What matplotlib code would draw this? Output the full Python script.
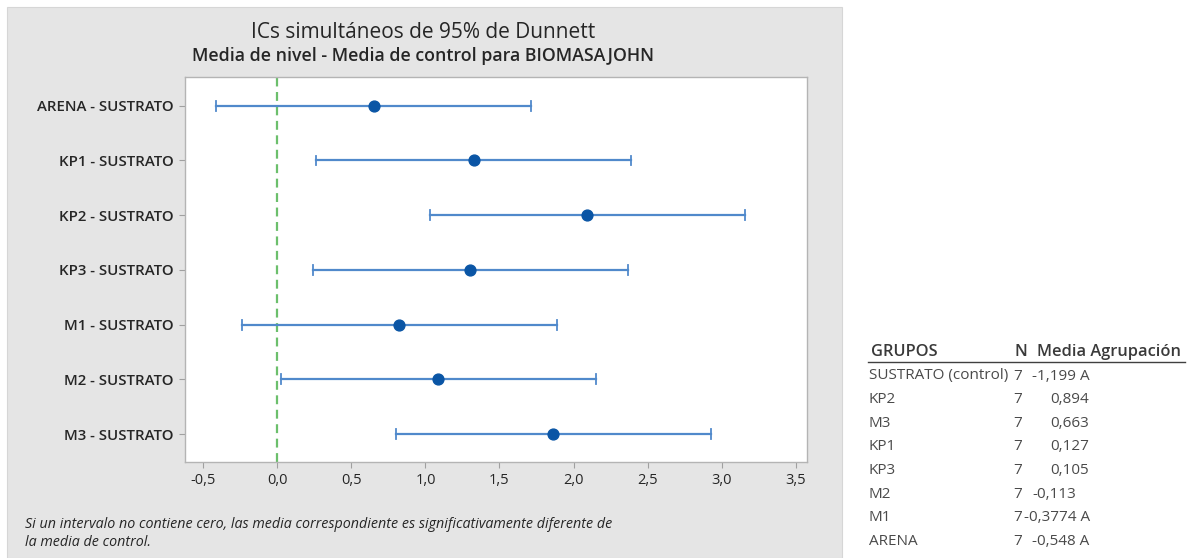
import matplotlib
matplotlib.use("Agg")
import matplotlib.pyplot as plt
from matplotlib.patches import Rectangle

# --- data ---
groups = ["ARENA", "KP1", "KP2", "KP3", "M1", "M2", "M3"]
diff   = [0.651, 1.326, 2.093, 1.304, 0.822, 1.086, 1.862]
lower  = [-0.413, 0.262, 1.029, 0.240, -0.242, 0.022, 0.798]
upper  = [1.715, 2.390, 3.157, 2.368, 1.886, 2.150, 2.926]
xticks = [-0.5, 0.0, 0.5, 1.0, 1.5, 2.0, 2.5, 3.0, 3.5]
xtick_labels = ["-0,5", "0,0", "0,5", "1,0", "1,5", "2,0", "2,5", "3,0", "3,5"]

tbl_names  = ["SUSTRATO (control)", "KP2", "M3", "KP1", "KP3", "M2", "M1", "ARENA"]
tbl_n      = [7, 7, 7, 7, 7, 7, 7, 7]
tbl_means  = ["-1,199", "0,894", "0,663", "0,127", "0,105", "-0,113", "-0,3774", "-0,548"]
tbl_letter = ["A", "", "", "", "", "", "A", "A"]

FONT = "Open Sans"
W, H = 1190, 558
TXT = "#262626"
BLUE_LINE = "#5089cb"
BLUE_DOT = "#0a55a5"
GREEN = "#6cbf6c"

plt.rcParams["font.family"] = [FONT, "DejaVu Sans"]

fig = plt.figure(figsize=(W / 100, H / 100), dpi=100)
fig.patch.set_facecolor("white")


def fx(x):
    return x / W


def fy(y):
    return 1 - y / H


# gray graph panel behind the plot
fig.patches.append(Rectangle((fx(7), 0), fx(842) - fx(7), fy(7), transform=fig.transFigure,
                             facecolor="#e5e5e5", edgecolor="#d6d6d6", lw=0.8, zorder=-5))

ax = fig.add_axes([fx(185), fy(462), fx(807) - fx(185), fy(77) - fy(462)])
ax.set_zorder(2)
ax.set_facecolor("white")

ypos = list(range(1, len(groups) + 1))
labels = [f"{g} - SUSTRATO" for g in groups]

ax.axvline(0, color=GREEN, ls=(0, (4, 2.5)), lw=1.6, zorder=1)
for y, lo, hi in zip(ypos, lower, upper):
    ax.plot([lo, hi], [y, y], color=BLUE_LINE, lw=1.6, zorder=2)
    ax.plot([lo, lo], [y - 0.09, y + 0.09], color=BLUE_LINE, lw=1.3, zorder=2)
    ax.plot([hi, hi], [y - 0.09, y + 0.09], color=BLUE_LINE, lw=1.3, zorder=2)
ax.plot(diff, ypos, "o", color=BLUE_DOT, ms=7.8, zorder=3)

ax.set_xlim(-0.624, 3.577)
ax.set_ylim(len(groups) + 0.51, 0.475)
ax.set_yticks(ypos)
ax.set_yticklabels(labels, fontsize=10.8, fontweight="semibold", color=TXT)
ax.set_xticks(xticks)
ax.set_xticklabels(xtick_labels, fontsize=10.5, fontweight="medium", color=TXT)
ax.tick_params(axis="both", length=4, width=0.8, color="#a0a0a0", pad=4)
for s in ax.spines.values():
    s.set_color("#b4b4b4")
    s.set_linewidth(1.0)

fig.text(fx(423), fy(33), "ICs simultáneos de 95% de Dunnett", ha="center", va="center",
         fontsize=15, color=TXT)
fig.text(fx(423), fy(56), "Media de nivel - Media de control para BIOMASAJOHN", ha="center",
         va="center", fontsize=12.8, fontweight="semibold", color=TXT)

fig.text(fx(25), fy(524), "Si un intervalo no contiene cero, las media correspondiente es "
         "significativamente diferente de", ha="left", va="center", fontsize=10.3,
         style="italic", color=TXT)
fig.text(fx(25), fy(543), "la media de control.", ha="left", va="center", fontsize=10.3,
         style="italic", color=TXT)

# grouping table
TBL = "#3a3a3a"
ROW = "#4a4a4a"
fig.text(fx(871), fy(352), "GRUPOS", ha="left", va="center", fontsize=11.8,
         fontweight="semibold", color=TBL)
fig.text(fx(1021), fy(352), "N", ha="center", va="center", fontsize=11.8,
         fontweight="semibold", color=TBL)
fig.text(fx(1037), fy(352), "Media Agrupación", ha="left", va="center", fontsize=11.8,
         fontweight="semibold", color=TBL)
fig.add_artist(plt.Line2D([fx(868), fx(1185)], [fy(362), fy(362)], color="#404040", lw=1.0,
                          transform=fig.transFigure))

row_y0, row_dy = 376, 23.6
for i, (name, n, m, g) in enumerate(zip(tbl_names, tbl_n, tbl_means, tbl_letter)):
    y = fy(row_y0 + i * row_dy)
    fig.text(fx(869), y, name, ha="left", va="center", fontsize=11, color=ROW)
    fig.text(fx(1018), y, str(n), ha="center", va="center", fontsize=11, color=ROW)
    if not m.startswith("-"):
        mx = 1050
    elif len(m) > 6:
        mx = 1024
    else:
        mx = 1032
    fig.text(fx(mx), y, m + (" " + g if g else ""), ha="left", va="center",
             fontsize=11, color=ROW)

fig.savefig("out.png", dpi=100)
